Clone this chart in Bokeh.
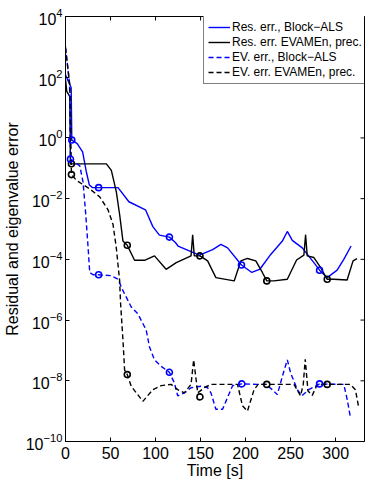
import math
from bokeh.plotting import figure
from bokeh.models import FixedTicker, Legend, LegendItem
from bokeh.embed import file_html
from bokeh.resources import INLINE

# ---- data: residual / eigenvalue error vs. wall time ----
res_als_t = [0, 6.3, 7, 13, 19, 23, 26.5, 30, 36.8, 58.3, 70.4, 88.8, 97, 104.3,
             115.4, 122, 125, 148.6, 163.4, 172.6, 180, 195.4, 206.9, 216, 227.9,
             240.8, 246.3, 251.8, 262.9, 275.8, 282.1, 290.6, 301.6, 309, 317.1]
res_als = [1.2e2, 45, 0.85, 0.65, 0.35, 0.08, 0.028, 0.023, 0.023, 0.023, 7.9e-3,
           4.3e-3, 1.2e-3, 6.3e-4, 5.4e-4, 3.6e-4, 2.75e-4, 1.38e-4, 2.1e-4, 3.1e-4,
           2.4e-4, 6.5e-5, 3.7e-5, 4.8e-5, 1.45e-4, 4.0e-4, 8.3e-4, 4.2e-4, 2.4e-4,
           7.8e-5, 4.4e-5, 2.5e-5, 4.4e-5, 1.0e-4, 2.75e-4]

res_ev_t = [0, 1.4, 4.8, 5.5, 6.6, 45.4, 50.9, 56.4, 60.1, 63.8, 68.6, 76.7, 87.7,
            98.8, 111.7, 123, 139.4, 141.2, 143, 149.3, 157.8, 167, 187.3, 194.7,
            202, 211.3, 218.6, 223.5, 231.5, 246.3, 256.6, 264.7, 266.6, 268.4,
            275.8, 283.2, 290.6, 297.9, 312.7, 319.3, 323.7]
res_ev = [83, 34, 23, 0.14, 0.14, 0.14, 0.085, 0.017, 3e-3, 4e-4, 2.9e-4, 9.3e-5,
          9.3e-5, 1.3e-4, 4.7e-5, 7.8e-5, 1.3e-4, 6.5e-4, 1.3e-4, 1.3e-4, 8.9e-5,
          2.5e-5, 1.95e-5, 8.9e-5, 1.07e-4, 8.9e-5, 3.7e-5, 1.95e-5, 1.95e-5,
          2.2e-5, 9.5e-5, 1.38e-4, 6.5e-4, 1.3e-4, 1.15e-4, 5.4e-5, 2.2e-5, 2.2e-5,
          2.1e-5, 8.9e-5, 1.05e-4]

ev_als_t = [0, 4.5, 5.5, 15.9, 19.5, 22.5, 25.1, 26.9, 30.6, 36.8, 50.9, 58.3, 63.8,
            73, 80.4, 89.6, 93.3, 98.8, 106.2, 115.4, 120.9, 124.6, 132, 139.4,
            150.4, 157.8, 161.5, 167, 174.4, 178.1, 185.5, 195.8, 213.1, 222.3,
            229.7, 235.2, 240.8, 246.3, 250, 257.4, 262.2, 270.2, 282.1, 303.4,
            309, 312.7, 316.4]
ev_als = [1.0e3, 60, 0.2, 0.12, 0.035, 3e-3, 2.4e-4, 3.7e-5, 3.1e-5, 3.1e-5, 2.9e-5,
          2.2e-5, 9.3e-6, 2.7e-6, 1.6e-6, 4.7e-7, 1.3e-7, 4.9e-8, 3e-8, 1.9e-8,
          8.5e-9, 3.2e-9, 4e-9, 5.9e-9, 6.6e-9, 5.9e-9, 4e-9, 1.15e-9, 1.15e-9,
          2.1e-9, 6.9e-9, 7.9e-9, 7.6e-9, 7.6e-9, 5.1e-9, 3.5e-9, 1.4e-8, 4.9e-8,
          1.8e-8, 5.1e-9, 3.2e-9, 5.1e-9, 7.9e-9, 7.6e-9, 7.6e-9, 2.5e-9, 6.2e-10]

ev_ev_t = [0, 4.8, 6.6, 12.2, 26.9, 37.9, 47.2, 52.8, 56.4, 60.1, 61.2, 63.8, 65.6,
           68.6, 73, 85.9, 97, 106.2, 117.3, 124.6, 132, 139.4, 142.3, 146.8, 154.1,
           161.5, 191, 196.5, 202, 209.4, 213.9, 223.5, 253.7, 261, 264, 266.2,
           269.2, 274, 279.5, 290.6, 316.4, 321.9, 325.6]
ev_ev = [900, 56, 0.062, 0.04, 0.021, 0.0115, 4.3e-3, 1.4e-3, 2.4e-4, 2e-5, 3.4e-6,
         2.2e-7, 2.3e-8, 1.6e-8, 6.6e-9, 2.1e-9, 5.1e-9, 6.9e-9, 7.6e-9, 5.1e-9,
         4e-9, 7.6e-9, 4.9e-8, 4e-9, 5.9e-9, 7.6e-9, 7.6e-9, 1.5e-9, 1.0e-9, 5.1e-9,
         7.6e-9, 7.6e-9, 7.6e-9, 3.2e-9, 7.6e-9, 5.1e-8, 4.6e-9, 3.3e-9, 7.6e-9,
         7.6e-9, 7.6e-9, 5.1e-9, 1.3e-9]

# circle markers placed at selected sweeps
mk_res_als_t = [7, 36.8, 115.4, 195.4, 282.1]
mk_res_als = [0.85, 0.023, 5.4e-4, 6.5e-5, 4.4e-5]
mk_res_ev_t = [6.6, 68.6, 149.3, 223.5, 290.6]
mk_res_ev = [0.14, 2.9e-4, 1.3e-4, 1.95e-5, 2.2e-5]
mk_ev_als_t = [5.5, 36.8, 115.4, 195.8, 282.1]
mk_ev_als = [0.2, 3.1e-5, 1.9e-8, 7.9e-9, 7.9e-9]
mk_ev_ev_t = [6.6, 68.6, 149.3, 223.5, 290.6]
mk_ev_ev = [0.062, 1.6e-8, 2.95e-9, 7.6e-9, 7.6e-9]

x_ticks = [0, 50, 100, 150, 200, 250, 300]
y_ticks = [1e4, 1e2, 1e0, 1e-2, 1e-4, 1e-6, 1e-8, 1e-10]
X_MAX = 332
Y_MIN, Y_MAX = 1e-10, 1e4

labels = ["Res. err., Block\u2212ALS", "Res. err. EVAMEn, prec.",
          "EV. err., Block\u2212ALS", "EV. err. EVAMEn, prec."]

BLUE = "#0000ff"
BLACK = "#000000"
FONT = "Liberation Sans"

p = figure(width=366, height=481, y_axis_type="log",
           x_range=(0, X_MAX), y_range=(Y_MIN, Y_MAX),
           output_backend="svg", toolbar_location=None,
           min_border_left=64, min_border_right=2,
           min_border_top=16, min_border_bottom=35)
p.background_fill_color = "white"
p.border_fill_color = "white"
p.outline_line_color = BLACK
p.outline_line_width = 1
p.grid.visible = False

lw = 1.4
r1 = p.line(res_als_t, res_als, line_color=BLUE, line_width=lw)
r2 = p.line(res_ev_t, res_ev, line_color=BLACK, line_width=lw)
r3 = p.line(ev_als_t, ev_als, line_color=BLUE, line_width=lw, line_dash="5 3")
r4 = p.line(ev_ev_t, ev_ev, line_color=BLACK, line_width=lw, line_dash="5 3")

for t, v, c in [(mk_res_als_t, mk_res_als, BLUE), (mk_res_ev_t, mk_res_ev, BLACK),
                (mk_ev_als_t, mk_ev_als, BLUE), (mk_ev_ev_t, mk_ev_ev, BLACK)]:
    p.scatter(t, v, marker="circle", size=6, line_color=c, line_width=1.6,
              fill_color=None)

# tick marks along the top and right edges of the box (half of each dash
# falls outside the frame and is clipped, leaving an inward tick)
p.scatter(x_ticks, [Y_MAX] * len(x_ticks), marker="dash", angle=math.pi / 2,
          size=8, line_color=BLACK, line_width=1)
p.scatter([X_MAX] * len(y_ticks), y_ticks, marker="dash",
          size=8, line_color=BLACK, line_width=1)

# bottom / left axes with inward ticks
for ax in (p.xaxis[0], p.yaxis[0]):
    ax.major_tick_in = 4
    ax.major_tick_out = 0
    ax.minor_tick_line_color = None
    ax.axis_line_color = BLACK
    ax.major_tick_line_color = BLACK
    ax.major_label_text_font = FONT
    ax.major_label_text_color = BLACK
    ax.major_label_text_font_size = "16px"
    ax.axis_label_text_font = FONT
    ax.axis_label_text_font_style = "normal"
    ax.axis_label_text_font_size = "16px"
    ax.axis_label_text_color = BLACK

p.xaxis.ticker = FixedTicker(ticks=x_ticks)
p.yaxis.ticker = FixedTicker(ticks=y_ticks)
p.xaxis.major_label_standoff = 5
p.yaxis.major_label_standoff = 3
p.xaxis.axis_label = "Time [s]"
p.yaxis.axis_label = "Residual and eigenvalue error"
p.xaxis.axis_label_standoff = 0
p.yaxis.axis_label_standoff = 2

legend = Legend(items=[LegendItem(label=labels[0], renderers=[r1]),
                       LegendItem(label=labels[1], renderers=[r2]),
                       LegendItem(label=labels[2], renderers=[r3]),
                       LegendItem(label=labels[3], renderers=[r4])],
                location=(138, 357))
legend.label_text_font = FONT
legend.label_text_font_size = "12px"
legend.label_text_color = BLACK
legend.label_height = 14
legend.glyph_height = 14
legend.glyph_width = 22
legend.label_standoff = 2
legend.spacing = 1
legend.padding = 4
legend.margin = 0
legend.border_line_color = BLACK
legend.border_line_width = 1
legend.background_fill_color = "white"
legend.background_fill_alpha = 1
p.add_layout(legend)

open("out.html", "w").write(file_html(p, INLINE))
